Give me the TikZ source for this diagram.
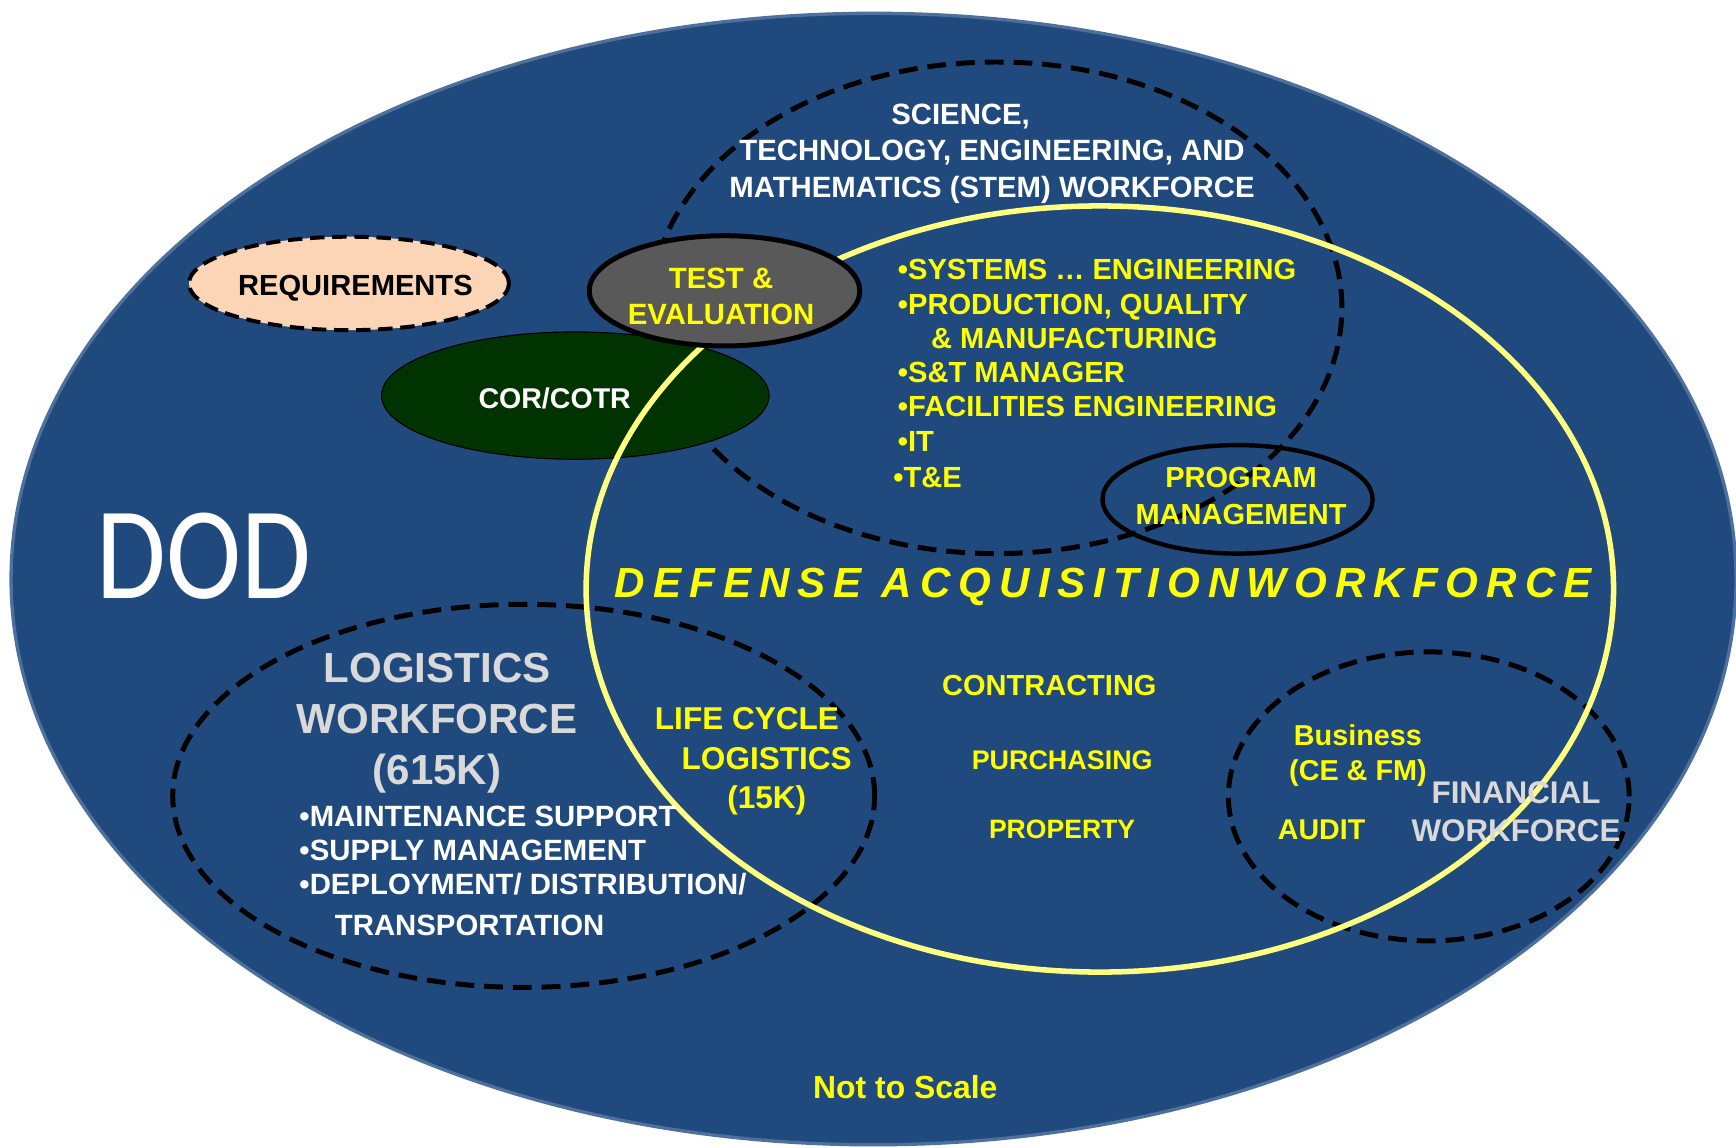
\documentclass[tikz,border=0pt]{standalone}
\usepackage{fontspec}
\setmainfont{Liberation Sans}
\newfontfamily\dodfont{Carlito}
\usetikzlibrary{shapes.geometric}
\definecolor{dodblue}{RGB}{32,74,126}
\definecolor{rimblue}{RGB}{78,112,156}
\definecolor{ylw}{RGB}{255,255,0}
\definecolor{ringyellow}{RGB}{255,255,128}
\definecolor{lgray}{RGB}{217,217,217}
\definecolor{tegray}{RGB}{89,89,89}
\definecolor{corgreen}{RGB}{0,51,0}
\definecolor{peach}{RGB}{251,213,181}
\newcommand\fsz[2]{\fontsize{#1pt}{#2pt}\selectfont}
\newcommand\lsk{\kern7.3pt}
\begin{document}
\begin{tikzpicture}[x=1pt,y=-1pt,
  blob/.style={ellipse, inner sep=0pt, outer sep=0pt},
  bigdash/.style={blob, draw=black, line width=4.5pt, dash pattern=on 17pt off 9pt},
  lbl/.style={inner sep=0pt, outer sep=0pt},
  bf/.style={font={\fsz{#1}{#1}\bfseries}},
]
\useasboundingbox (0,0) rectangle (1568,1036);
\fill[white] (0,0) rectangle (1568,1036);

% DoD
\node[blob, fill=dodblue, draw=rimblue, line width=3pt,
      minimum width=1558pt, minimum height=1022pt] (dod) at (789,523) {};

% dashed workforce rings
\node[bigdash, minimum width=624pt, minimum height=444pt] (stem) at (900,278) {};
\node[bigdash, minimum width=634pt, minimum height=346pt] (logi) at (473,718.8) {};
\node[bigdash, minimum width=362pt, minimum height=261pt] (fin) at (1290.5,719.3) {};

% COR/COTR
\node[blob, fill=corgreen, draw=black, line width=1pt,
      minimum width=350pt, minimum height=115pt] (cor) at (519.6,357.3) {};

% Defense acquisition workforce ring
\node[blob, draw=ringyellow, line width=5pt,
      minimum width=928pt, minimum height=692pt] (daw) at (993.4,532) {};

% Test & evaluation
\node[blob, fill=tegray, draw=black, line width=4.5pt,
      minimum width=244.4pt, minimum height=99.6pt] (te) at (654.4,262.7) {};

% Requirements
\node[blob, fill=peach, draw=black, line width=3.6pt, dash pattern=on 13pt off 7pt,
      minimum width=289pt, minimum height=84.4pt] (req) at (315.2,256) {};

% Program management
\node[blob, draw=black, line width=4pt,
      minimum width=244pt, minimum height=98pt] (pm) at (1117.8,451) {};

% ---------- texts ----------
\node[lbl, anchor=base, text=white, font={\dodfont\fsz{119}{120}}] (dodlbl) at (184.4,541) {\scalebox{0.86}[1]{DOD}};

\node[lbl, anchor=north, align=center, text=white, font={\fsz{26.5}{33.1}\bfseries}] (stemlbl) at (896,93.8)
  {SCIENCE,\hspace*{56.8pt}\\TECHNOLOGY, ENGINEERING, AND\\MATHEMATICS (STEM) WORKFORCE};

\node[lbl, anchor=north west, align=left, text=ylw, font={\fsz{26.3}{30.9}\bfseries}] (stemlist) at (811,234.5)
  {•SYSTEMS … ENGINEERING\\•PRODUCTION, QUALITY\\\hspace*{30pt}\& MANUFACTURING\\•S\&T MANAGER\\•FACILITIES ENGINEERING\\•IT\\[2.2pt]\hspace*{-4pt}•T\&E};

\node[lbl, anchor=base, text=black, bf=26.3] (reqlbl) at (321,267.3) {REQUIREMENTS};
\node[lbl, anchor=north, align=center, text=ylw, font={\fsz{26.5}{32}\bfseries}] (telbl) at (651.3,242.5) {TEST \&\\EVALUATION};
\node[lbl, anchor=base, text=white, bf=25.8] (corlbl) at (501,369) {COR/COTR};
\node[lbl, anchor=north, align=center, text=ylw, font={\fsz{26.2}{33}\bfseries}] (pmlbl) at (1121,422.3) {PROGRAM\\MANAGEMENT};

\node[lbl, anchor=base, text=ylw, font={\fsz{38}{40}\bfseries\itshape}] (dawlbl) at (996.5,539.5)
  {D\lsk E\lsk F\lsk E\lsk N\lsk S\lsk E\hspace{18pt}A\lsk C\lsk Q\lsk U\lsk I\lsk S\lsk I\lsk T\lsk I\lsk O\lsk N\lsk W\lsk O\lsk R\lsk K\lsk F\lsk O\lsk R\lsk C\lsk E};

\node[lbl, anchor=north, align=center, text=lgray, font={\fsz{38}{46}\bfseries}] (logilbl) at (394.8,590) {LOGISTICS\\WORKFORCE\\(615K)};
\node[lbl, anchor=north west, align=left, text=white, font={\fsz{26.5}{30.9}\bfseries}] (logilist) at (270.5,727.8)
  {•MAINTENANCE SUPPORT\\•SUPPLY MANAGEMENT\\•DEPLOYMENT/ DISTRIBUTION/\\[5.7pt]\hspace*{32pt}TRANSPORTATION};
\node[lbl, anchor=north, align=center, text=ylw, font={\fsz{28.5}{35.5}\bfseries}] (lcllbl) at (692.5,639.4) {LIFE CYCLE\hspace*{35.6pt}\\LOGISTICS\\(15K)};

\node[lbl, anchor=base, text=ylw, bf=26.2] (contr) at (947.8,628.6) {CONTRACTING};
\node[lbl, anchor=base, text=ylw, bf=24.3] (purch) at (959.4,694.7) {PURCHASING};
\node[lbl, anchor=base, text=ylw, bf=24] (prop) at (959.3,757.7) {PROPERTY};

\node[lbl, anchor=north, align=center, text=ylw, font={\fsz{26}{32}\bfseries}] (buslbl) at (1226.5,654.1) {Business\\(CE \& FM)};
\node[lbl, anchor=base, text=ylw, bf=25.8] (audit) at (1193.7,758.6) {AUDIT};
\node[lbl, anchor=north, align=center, text=lgray, font={\fsz{28.3}{33.9}\bfseries}] (finlbl) at (1369.3,706) {FINANCIAL\\WORKFORCE};

\node[lbl, anchor=base, text=ylw, bf=28.8] (scale) at (817.7,992) {Not to Scale};
\end{tikzpicture}
\end{document}
